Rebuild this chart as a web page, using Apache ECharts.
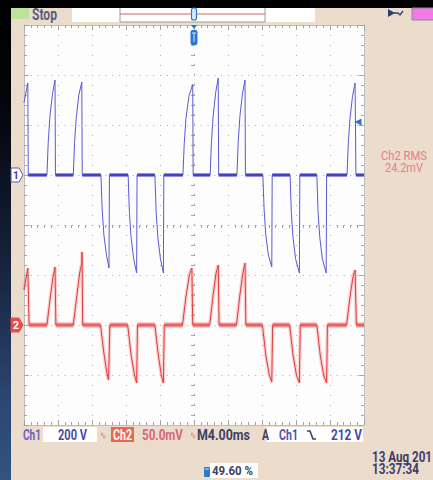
<!DOCTYPE html>
<html>
<head>
<meta charset="utf-8">
<script src="https://cdn.jsdelivr.net/npm/echarts@6/dist/echarts.min.js"></script>
<style>
  html, body { margin: 0; padding: 0; width: 433px; height: 480px; overflow: hidden; background: #000; }
  #side { position: absolute; left: 0; top: 0; width: 11px; height: 480px;
          background: linear-gradient(#000 0%, #03050a 22%, #16233c 55%, #2c4874 85%, #33527e 100%); }
  #panel { position: absolute; left: 11px; top: 8px; width: 422px; height: 472px; background: #ecdccc; }
  #chart { position: absolute; left: 0; top: 0; width: 433px; height: 480px; }
</style>
</head>
<body>
<div id="side"></div>
<div id="panel"></div>
<div id="chart"></div>
<script>
// ---- acquisition settings ----
const ch1VoltsPerDiv = 200;      // V/div
const ch2VoltsPerDiv = 50;       // mV/div
const timePerDiv = 4;            // ms/div
const triggerLevel = 212;        // V, Ch1 falling edge
const triggerPosition = 49.60;   // % of record
const ch2Rms = 24.2;             // mV
const ch1OffsetDiv = 1;          // Ch1 ground marker, divisions above centre
const ch2OffsetDiv = -2;         // Ch2 ground marker, divisions above centre
const acqState = 'Stop';
const dateLine = '13 Aug 201';
const timeLine = '13:37:34';

// ---- Ch1 trace: [time (ms from trigger), volts] ----
const ch1Trace = [
  [-20.0, 290], [-19.55, 368], [-19.5, 0],
  [-17.3, 0], [-17.15, 130], [-16.95, 235], [-16.65, 325], [-16.35, 380], [-16.3, 0],
  [-14.2, 0], [-14.05, 130], [-13.85, 230], [-13.55, 320], [-13.2, 372], [-13.15, 0],
  [-10.95, 0], [-10.8, -140], [-10.6, -240], [-10.3, -320], [-10.0, -372], [-9.95, 0],
  [-7.75, 0], [-7.6, -150], [-7.4, -250], [-7.1, -335], [-6.75, -392], [-6.7, 0],
  [-4.6, 0], [-4.45, -150], [-4.25, -250], [-3.95, -335], [-3.6, -392], [-3.55, 0],
  [-1.3, 0], [-1.15, 125], [-0.95, 225], [-0.6, 315], [-0.15, 362], [-0.1, 0],
  [1.9, 0], [2.05, 130], [2.25, 235], [2.55, 330], [2.85, 388], [2.9, 0],
  [5.05, 0], [5.2, 130], [5.4, 235], [5.7, 325], [6.0, 380], [6.05, 0],
  [8.1, 0], [8.25, -140], [8.45, -240], [8.75, -320], [9.15, -368], [9.2, 0],
  [11.3, 0], [11.45, -150], [11.65, -250], [11.95, -335], [12.4, -392], [12.45, 0],
  [14.45, 0], [14.6, -150], [14.8, -250], [15.1, -335], [15.55, -392], [15.6, 0],
  [18.0, 0], [18.15, 125], [18.35, 225], [18.65, 315], [18.95, 368], [19.05, 0],
  [20.0, 0]
];

// ---- Ch2 trace: [time (ms from trigger), millivolts] ----
const ch2Trace = [
  [-20.0, 35], [-19.55, 57], [-19.4, 0],
  [-17.3, 0], [-16.95, 25], [-16.6, 47], [-16.35, 58], [-16.25, 0],
  [-14.2, 0], [-13.8, 28], [-13.45, 52], [-13.2, 62], [-13.17, 73], [-13.1, 0],
  [-11.0, 0], [-10.6, -28], [-10.25, -48], [-10.05, -55], [-9.9, 0],
  [-7.8, 0], [-7.4, -30], [-7.0, -50], [-6.75, -58], [-6.65, 0],
  [-4.6, 0], [-4.2, -30], [-3.85, -50], [-3.6, -58], [-3.5, 0],
  [-1.35, 0], [-0.95, 28], [-0.55, 50], [-0.25, 57], [-0.15, 0],
  [1.85, 0], [2.25, 30], [2.6, 52], [2.85, 60], [2.95, 0],
  [5.0, 0], [5.4, 30], [5.75, 52], [6.0, 62], [6.1, 0],
  [8.05, 0], [8.45, -30], [8.85, -50], [9.15, -57], [9.25, 0],
  [11.25, 0], [11.65, -30], [12.05, -50], [12.4, -58], [12.5, 0],
  [14.45, 0], [14.85, -30], [15.25, -50], [15.6, -58], [15.7, 0],
  [17.95, 0], [18.35, 28], [18.7, 48], [18.95, 55], [19.1, 0],
  [20.0, 0]
];

// flat ground-level stretches, drawn heavier like the dense sample band
function groundSegments(trace) {
  const out = [];
  for (let i = 0; i < trace.length - 1; i++) {
    if (trace[i][1] === 0 && trace[i + 1][1] === 0) {
      out.push(trace[i], trace[i + 1], '-');
    }
  }
  return out;
}

const FONT = "Roboto, 'Liberation Sans', sans-serif";
const DIVS_X = 10, DIVS_Y = 8;
const halfT = timePerDiv * DIVS_X / 2;

const chart = echarts.init(document.getElementById('chart'), null, { renderer: 'svg' });

const tickStyle = { color: '#a4a4a4', width: 1 };
const edgeX = (pos) => ({
  type: 'value', min: -halfT, max: halfT, interval: timePerDiv, position: pos,
  axisLine: { onZero: false, lineStyle: { color: '#bdbdbd', width: 1 } },
  axisTick: { inside: true, length: 5, lineStyle: tickStyle },
  minorTick: { show: true, splitNumber: 5, length: 3, lineStyle: tickStyle },
  axisLabel: { show: false }, splitLine: { show: false }
});
const edgeY = (pos) => ({
  type: 'value', min: -DIVS_Y / 2, max: DIVS_Y / 2, interval: 1, position: pos,
  axisLine: { onZero: false, lineStyle: { color: '#bdbdbd', width: 1 } },
  axisTick: { inside: true, length: 5, lineStyle: tickStyle },
  minorTick: { show: true, splitNumber: 5, length: 3, lineStyle: tickStyle },
  axisLabel: { show: false }, splitLine: { show: false }
});

const xAxes = [
  Object.assign(edgeX('bottom'), {
    splitLine: { show: true, lineStyle: { color: '#a8a8a8', width: 1, type: [1, 9] } }
  }),
  edgeX('top'),
  // centre horizontal line of the graticule
  Object.assign(edgeX('bottom'), {
    axisLine: { onZero: true, onZeroAxisIndex: 0, lineStyle: { color: '#b0b0b0', width: 1, type: [1, 5.8] } },
    axisTick: { show: false },
    minorTick: { show: true, splitNumber: 5, length: 3, lineStyle: tickStyle }
  })
];
const yAxes = [
  Object.assign(edgeY('left'), {
    splitLine: { show: true, lineStyle: { color: '#a8a8a8', width: 1, type: [1, 5.8] } }
  }),
  edgeY('right'),
  // centre vertical line of the graticule
  Object.assign(edgeY('left'), {
    axisLine: { onZero: true, onZeroAxisIndex: 0, lineStyle: { color: '#b0b0b0', width: 1, type: [1, 9] } },
    axisTick: { show: false },
    minorTick: { show: true, splitNumber: 5, length: 3, lineStyle: tickStyle }
  }),
  // Ch1 volts
  { type: 'value', show: false,
    min: (-DIVS_Y / 2 - ch1OffsetDiv) * ch1VoltsPerDiv, max: (DIVS_Y / 2 - ch1OffsetDiv) * ch1VoltsPerDiv },
  // Ch2 millivolts
  { type: 'value', show: false,
    min: (-DIVS_Y / 2 - ch2OffsetDiv) * ch2VoltsPerDiv, max: (DIVS_Y / 2 - ch2OffsetDiv) * ch2VoltsPerDiv }
];

chart.setOption({
  animation: false,
  backgroundColor: 'transparent',
  grid: { left: 24, top: 25, width: 340, height: 400, show: true, backgroundColor: '#fdfdfd', borderWidth: 0 },
  xAxis: xAxes,
  yAxis: yAxes,
  series: [
    { name: 'Ch2 haze', type: 'line', xAxisIndex: 0, yAxisIndex: 4, data: ch2Trace, showSymbol: false,
      lineStyle: { color: '#f07a7a', width: 3.5, opacity: 0.35 }, silent: true },
    { name: 'Ch2 band', type: 'line', xAxisIndex: 0, yAxisIndex: 4, data: groundSegments(ch2Trace), showSymbol: false,
      lineStyle: { color: '#ec5050', width: 5, opacity: 0.55 }, silent: true },
    { name: 'Ch2', type: 'line', xAxisIndex: 0, yAxisIndex: 4, data: ch2Trace, showSymbol: false,
      lineStyle: { color: '#e43c3c', width: 1 } },
    { name: 'Ch1 band', type: 'line', xAxisIndex: 0, yAxisIndex: 3, data: groundSegments(ch1Trace), showSymbol: false,
      lineStyle: { color: '#2b2bbd', width: 3 }, silent: true },
    { name: 'Ch1', type: 'line', xAxisIndex: 0, yAxisIndex: 3, data: ch1Trace, showSymbol: false,
      lineStyle: { color: '#5a5ad4', width: 1 },
      markPoint: {
        symbol: 'triangle', symbolSize: [7, 7], symbolRotate: 90, symbolOffset: [-6, 0],
        itemStyle: { color: '#2f6fd0' }, label: { show: false },
        data: [{ coord: [halfT, triggerLevel] }]
      } }
  ]
});

// ---- screen furniture ----
const ch1Y = chart.convertToPixel({ yAxisIndex: 3 }, 0);
const ch2Y = chart.convertToPixel({ yAxisIndex: 4 }, 0);
const trigX = chart.convertToPixel({ xAxisIndex: 0 }, 0);

// text squeezed horizontally to the instrument's narrow status font
const measureCtx = document.createElement('canvas').getContext('2d');
function fitText(x, yMid, s, fill, size, width, opts) {
  opts = opts || {};
  const font = (opts.weight || 'bold') + ' ' + size + 'px ' + FONT;
  measureCtx.font = font;
  const w = measureCtx.measureText(s).width || width;
  return { type: 'text', x: x, y: yMid, z: 100, scaleX: width / w, scaleY: 1,
    style: { text: s, fill: fill, font: font, textAlign: opts.align || 'left', textVerticalAlign: 'middle' } };
}
function chMarker(y, label, fill, stroke, textFill) {
  return { type: 'group', x: 11, y: y, z: 100, children: [
    { type: 'polygon', shape: { points: [[0, -7], [8, -7], [12, 0], [8, 7], [0, 7]] },
      style: { fill: fill, stroke: stroke, lineWidth: 1 } },
    { type: 'text', x: 5, y: 0, style: { text: label, fill: textFill, font: 'bold 11px ' + FONT,
      textAlign: 'center', textVerticalAlign: 'middle' } }
  ] };
}

const fmtV = (v) => v + ' V';
const graphics = [
  // acquisition state
  { type: 'rect', z: 90, shape: { x: 11, y: 8, width: 18, height: 11 }, style: { fill: '#bde39a' } },
  fitText(32, 14.5, acqState, '#56607e', 16, 25),
  // record view bar
  { type: 'rect', z: 90, shape: { x: 72, y: 8, width: 243, height: 14 }, style: { fill: '#ffffff' } },
  { type: 'polyline', z: 91, shape: { points: [[120, 8], [120, 22], [265, 22], [265, 8]] },
    style: { stroke: '#9a9a9a', lineWidth: 1, fill: null } },
  { type: 'line', z: 91, shape: { x1: 120, y1: 14, x2: 265, y2: 14 }, style: { stroke: '#d06060', lineWidth: 1 } },
  { type: 'rect', z: 92, shape: { x: trigX - 2.5, y: 8, width: 5, height: 12, r: 2 },
    style: { fill: '#d8e8fa', stroke: '#2a78d0', lineWidth: 1.2 } },
  // trigger position marker
  { type: 'polygon', z: 92, shape: { points: [[trigX - 3, 25], [trigX + 3, 25], [trigX, 29]] }, style: { fill: '#2a78d0' } },
  { type: 'rect', z: 92, shape: { x: trigX - 3.5, y: 30, width: 7, height: 15, r: 2 }, style: { fill: '#2a78d0' } },
  { type: 'line', z: 93, shape: { x1: trigX - 2, y1: 33, x2: trigX + 2, y2: 33 }, style: { stroke: '#cfe3fa', lineWidth: 1 } },
  { type: 'line', z: 93, shape: { x1: trigX, y1: 33, x2: trigX, y2: 42 }, style: { stroke: '#cfe3fa', lineWidth: 1 } },
  // upper-right indicators
  { type: 'polygon', z: 92, shape: { points: [[388, 9], [395, 13], [388, 17]] }, style: { fill: '#2c3e6e' } },
  { type: 'polyline', z: 92, shape: { points: [[394, 13], [398, 13], [400, 15], [403, 11]] },
    style: { stroke: '#2c3e6e', lineWidth: 1.3, fill: null } },
  { type: 'rect', z: 92, shape: { x: 412, y: 8, width: 22, height: 12 }, style: { fill: '#f27ae6', stroke: '#8c8c8c', lineWidth: 1 } },

  // channel ground markers
  chMarker(ch1Y, '1', '#ffffff', '#5a5ab8', '#4848b0'),
  chMarker(ch2Y, '2', '#e84c4c', '#e84c4c', '#ffffff'),

  // measurement readout
  fitText(381, 156, 'Ch2 RMS', '#e77c86', 13, 46, { weight: 'normal' }),
  fitText(385, 168, ch2Rms.toFixed(1) + 'mV', '#e77c86', 13, 38, { weight: 'normal' }),

  // status line
  { type: 'rect', z: 90, shape: { x: 43, y: 427, width: 54, height: 15 }, style: { fill: '#ffffff' } },
  { type: 'rect', z: 90, shape: { x: 111, y: 427, width: 23, height: 15 }, style: { fill: '#f0644c' } },
  { type: 'rect', z: 90, shape: { x: 267, y: 427, width: 96, height: 15 }, style: { fill: '#ffffff' } },
  fitText(23, 435, 'Ch1', '#6a60c0', 14, 18),
  fitText(58, 435, fmtV(ch1VoltsPerDiv), '#4a4aa8', 14, 29),
  fitText(100, 435, '∿', '#e07090', 11, 6, { weight: 'normal' }),
  fitText(113, 435, 'Ch2', '#ffffff', 14, 19),
  fitText(142, 435, ch2VoltsPerDiv.toFixed(1) + 'mV', '#d8687a', 14, 41),
  fitText(190, 435, '∿', '#e07090', 11, 6, { weight: 'normal' }),
  fitText(197, 435, 'M' + timePerDiv.toFixed(2) + 'ms', '#3c4262', 14, 53),
  fitText(262, 435, 'A', '#3c4262', 14, 7),
  fitText(279, 435, 'Ch1', '#5050b0', 14, 19),
  { type: 'polyline', z: 100, shape: { points: [[307, 431], [310, 431], [313, 439], [316, 439]] },
    style: { stroke: '#3c4262', lineWidth: 1.6, fill: null } },
  fitText(362, 435, fmtV(triggerLevel), '#4a4aa8', 14, 31, { align: 'right' }),

  // trigger position readout
  { type: 'rect', z: 90, shape: { x: 210, y: 463, width: 48, height: 15 }, style: { fill: '#ffffff' } },
  { type: 'rect', z: 91, shape: { x: 204, y: 467, width: 6, height: 10, r: 1 }, style: { fill: '#2a7ad0' } },
  { type: 'line', z: 92, shape: { x1: 205, y1: 469, x2: 209, y2: 469 }, style: { stroke: '#d0e4fa', lineWidth: 1 } },
  fitText(212, 471, triggerPosition.toFixed(2) + ' %', '#3c4262', 13, 41),

  // date / time
  fitText(372, 457, dateLine, '#3c3c6c', 14, 60),
  fitText(372, 469, timeLine, '#3c3c6c', 14, 47)
];

chart.setOption({ graphic: graphics });
</script>
</body>
</html>
